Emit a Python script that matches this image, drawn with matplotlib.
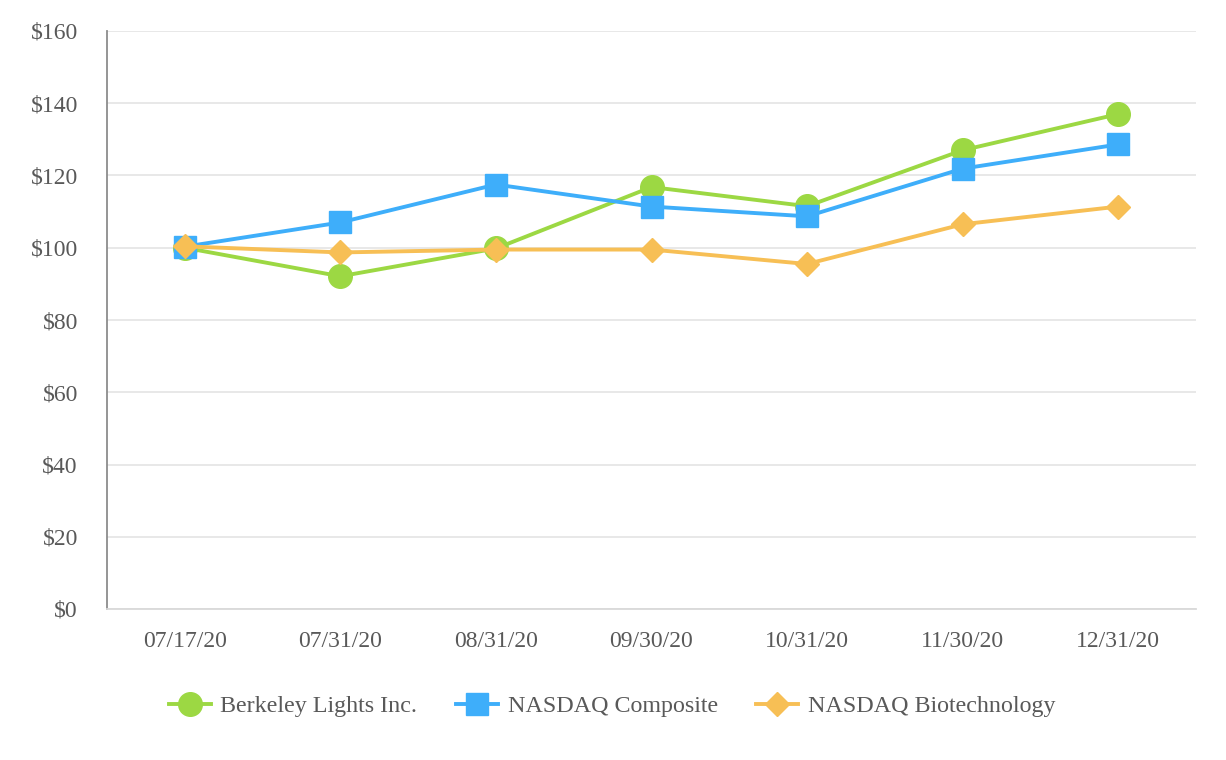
import matplotlib.pyplot as plt
from matplotlib.ticker import FuncFormatter

dates = ['07/17/20', '07/31/20', '08/31/20', '09/30/20', '10/31/20', '11/30/20', '12/31/20']
berkeley = [100.0, 92.1, 99.8, 116.8, 111.5, 127.0, 137.0]
nasdaq_comp = [100.3, 107.0, 117.5, 111.4, 108.7, 121.9, 128.6]
nasdaq_bio = [100.4, 98.7, 99.5, 99.5, 95.5, 106.5, 111.4]

plt.rcParams['font.family'] = ['Liberation Serif', 'DejaVu Serif']

fig = plt.figure(figsize=(12.26, 7.60), dpi=100)
ax = fig.add_axes([107 / 1226, 1 - 609 / 760, (1196 - 107) / 1226, (609 - 31) / 760])

x = list(range(len(dates)))
ax.plot(x, berkeley, color='#9cd843', lw=2.8, marker='o', ms=17, label='Berkeley Lights Inc.', zorder=3)
ax.plot(x, nasdaq_comp, color='#3eaefa', lw=2.8, marker='s', ms=16, label='NASDAQ Composite', zorder=4)
ax.plot(x, nasdaq_bio, color='#f7bf55', lw=2.8, marker='D', ms=12, label='NASDAQ Biotechnology', zorder=5)

ax.set_xlim(-0.5, 6.5)
ax.set_ylim(0, 160)
ax.set_yticks(range(0, 161, 20))
ax.yaxis.set_major_formatter(FuncFormatter(lambda v, p: '${:.0f}'.format(v)))
ax.set_xticks(x)
ax.set_xticklabels(dates)
ax.tick_params(length=0, labelsize=17, colors='#595959')
ax.tick_params(axis='y', pad=21)
ax.tick_params(axis='x', pad=16)
ax.grid(axis='y', color='#e6e6e6', lw=1.3)
ax.set_axisbelow(True)
for s in ['top', 'right']:
    ax.spines[s].set_visible(False)
ax.spines['left'].set_color('#8c8c8c')
ax.spines['left'].set_linewidth(1.3)
ax.spines['bottom'].set_color('#d9d9d9')
ax.spines['bottom'].set_linewidth(1.3)

fig.legend(loc='center', bbox_to_anchor=(612 / 1226, 1 - 706 / 760), ncol=3, frameon=False,
           fontsize=17.3, labelcolor='#595959', handlelength=1.75, columnspacing=1.6, handletextpad=0.4)

fig.savefig('out.png', dpi=100)
